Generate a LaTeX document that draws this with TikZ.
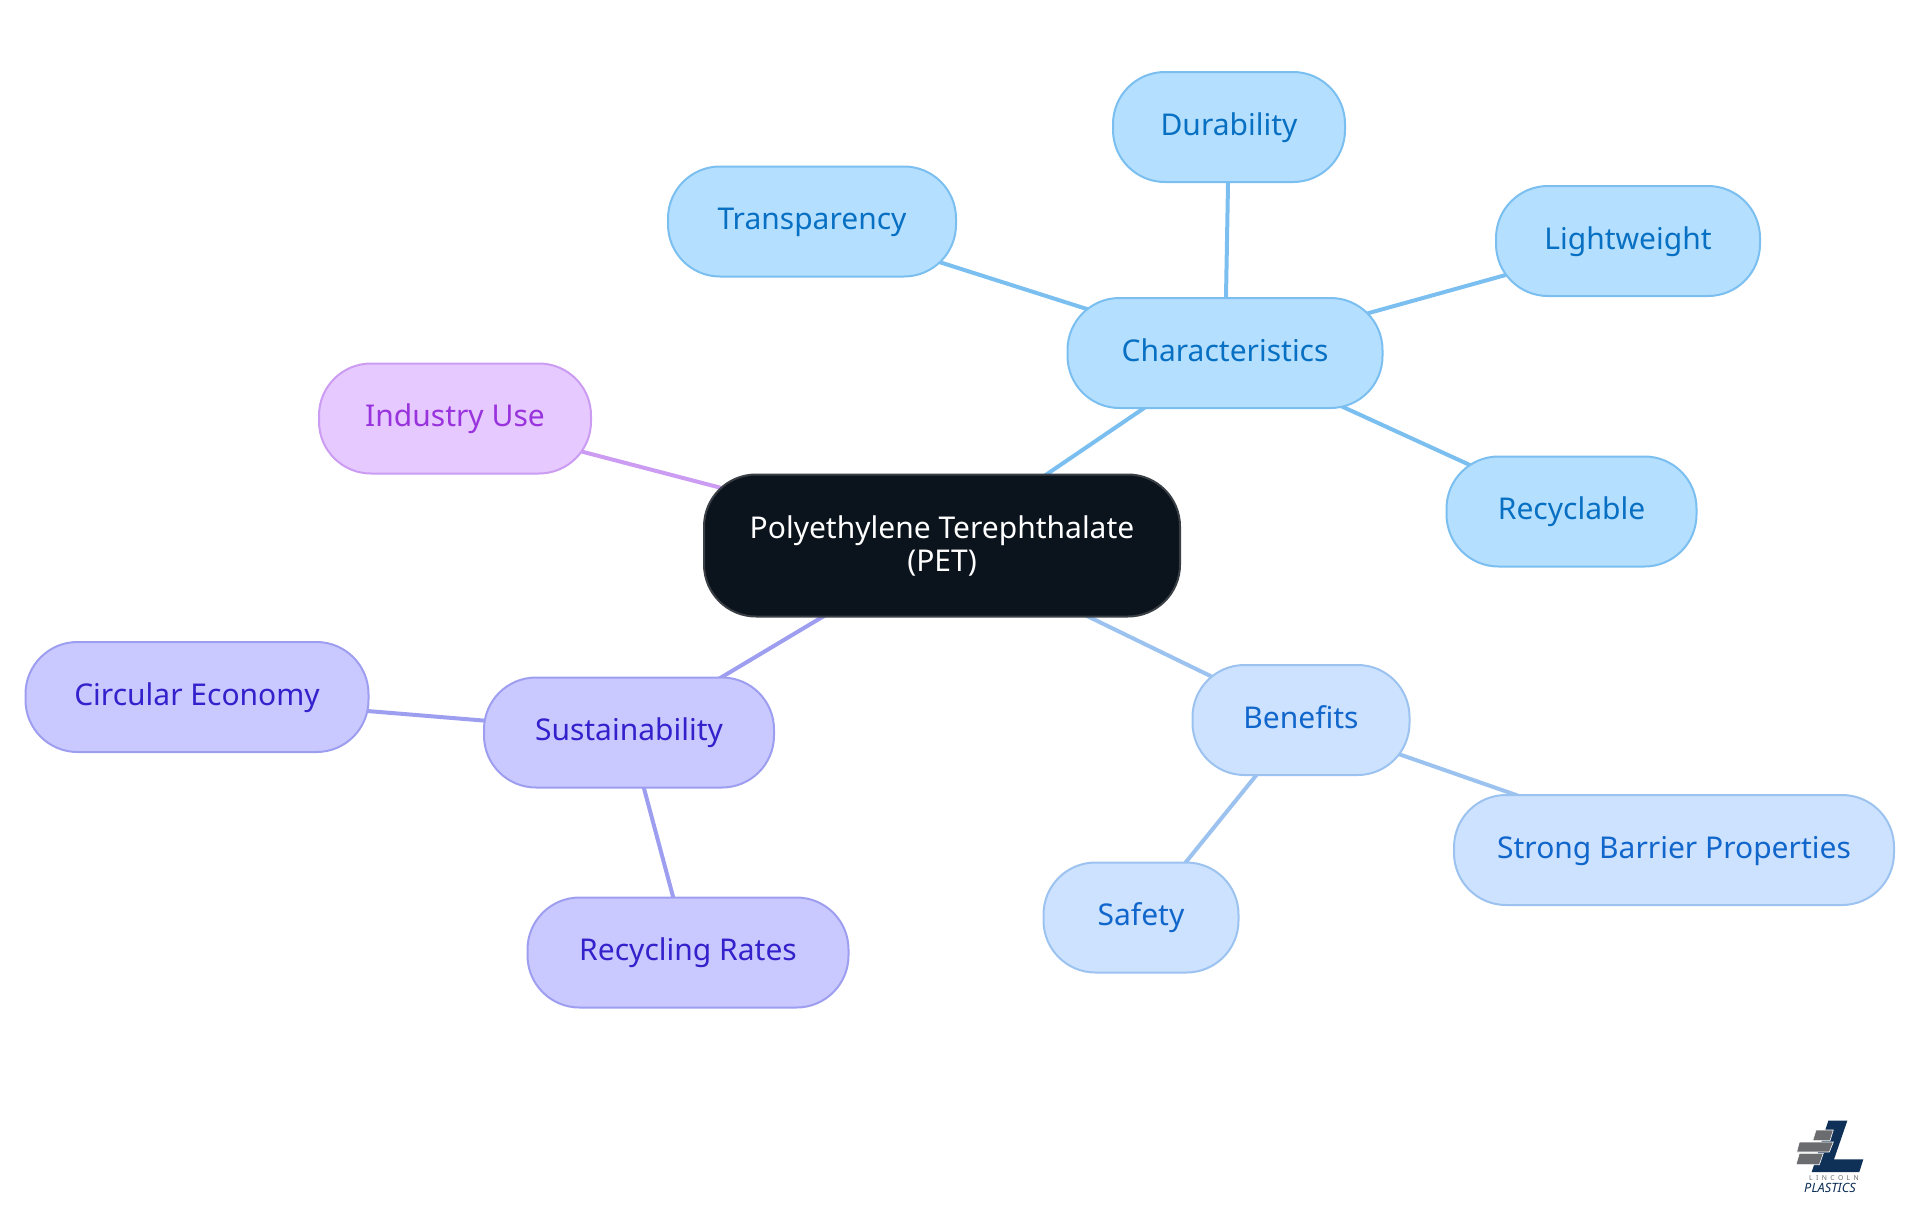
\documentclass[tikz,border=0pt]{standalone}
\usepackage{fontspec}
\setmainfont{Noto Sans}
\usetikzlibrary{positioning, backgrounds}
\definecolor{rootFill}{HTML}{0B131C}
\definecolor{rootStroke}{HTML}{3A3F45}
\definecolor{charFill}{HTML}{B5DFFF}
\definecolor{charStroke}{HTML}{7BBFF0}
\definecolor{charText}{HTML}{0870C2}
\definecolor{beneFill}{HTML}{CCE2FF}
\definecolor{beneStroke}{HTML}{9CC3F0}
\definecolor{beneText}{HTML}{1166CC}
\definecolor{sustFill}{HTML}{C9C9FF}
\definecolor{sustStroke}{HTML}{9E9EF0}
\definecolor{sustText}{HTML}{3322CC}
\definecolor{induFill}{HTML}{E6C9FF}
\definecolor{induStroke}{HTML}{CB9CF2}
\definecolor{induText}{HTML}{9933DD}
\definecolor{logoNavy}{HTML}{0F3057}
\definecolor{logoGray}{HTML}{6A6C70}
\tikzset{
  mind/.style = {
    font=\fontsize{15}{16.5}\selectfont,
    every node/.append style={align=center},
  },
  pill/.style = {
    rectangle, rounded corners=26pt, line width=1pt,
    minimum height=55, inner sep=0pt, text height=11.5pt, text depth=3.5pt,
  },
  rootpill/.style = {
    pill, draw=rootStroke, fill=rootFill, text=white, minimum height=71,
    text height=, text depth=,
  },
  charpill/.style = {pill, draw=charStroke, fill=charFill, text=charText},
  benepill/.style = {pill, draw=beneStroke, fill=beneFill, text=beneText},
  sustpill/.style = {pill, draw=sustStroke, fill=sustFill, text=sustText},
  indupill/.style = {pill, draw=induStroke, fill=induFill, text=induText},
  charlink/.style = {draw=charStroke, line width=2pt},
  benelink/.style = {draw=beneStroke, line width=2pt},
  sustlink/.style = {draw=sustStroke, line width=2pt},
  indulink/.style = {draw=induStroke, line width=2pt},
  brick/.style = {fill=logoGray, draw=white, line width=0.3pt},
}
\begin{document}
\begin{tikzpicture}[mind, x=0.5pt, y=-0.5pt]
\useasboundingbox (0,0) rectangle (1920,1215);

\node[rootpill, minimum width=238] (pet) at (942,545.5) {Polyethylene Terephthalate\\(PET)};

\node[charpill, minimum width=157.5] (char)  at (1225,353)  {Characteristics};
\node[charpill, minimum width=116] (dura)  at (1229,127)  {Durability};
\node[charpill, minimum width=144] (tran)  at (812,221.5)   {Transparency};
\node[charpill, minimum width=132] (ligh)  at (1628,241)  {Lightweight};
\node[charpill, minimum width=125] (recy)  at (1571.5,511.5)  {Recyclable};

\node[indupill, minimum width=136] (indu)  at (455,418.5)   {Industry Use};

\node[sustpill, minimum width=145] (sust)  at (629,732.5)   {Sustainability};
\node[sustpill, minimum width=171.5] (circ)  at (197,697)   {Circular Economy};
\node[sustpill, minimum width=160.5] (rate)  at (688,952.5)   {Recycling Rates};

\node[benepill, minimum width=108.5] (bene)  at (1301,720)  {Benefits};
\node[benepill, minimum width=97.5]  (safe)  at (1141,917.5)  {Safety};
\node[benepill, minimum width=220] (barr)  at (1674,850)  {Strong Barrier Properties};

\begin{scope}[on background layer]
\draw[charlink] (pet.center) -- (char.center);
\draw[charlink] (char.center) -- (dura.center);
\draw[charlink] (char.center) -- (tran.center);
\draw[charlink] (char.center) -- (ligh.center);
\draw[charlink] (char.center) -- (recy.center);
\draw[indulink] (pet.center) -- (indu.center);
\draw[sustlink] (pet.center) -- (sust.center);
\draw[sustlink] (sust.center) -- (circ.center);
\draw[sustlink] (sust.center) -- (rate.center);
\draw[benelink] (pet.center) -- (bene.center);
\draw[benelink] (bene.center) -- (safe.center);
\draw[benelink] (bene.center) -- (barr.center);
\end{scope}

\fill[logoNavy] (1828.3,1120.7) -- (1847.3,1120.7) -- (1834,1159.3) -- (1863.3,1159.3) -- (1859.3,1172) -- (1811.7,1172) -- cycle;
\filldraw[brick] (1816,1130) -- (1833.3,1130) -- (1830,1140.7) -- (1812.7,1140.7) -- cycle;
\filldraw[brick] (1799.3,1142) -- (1833.3,1142) -- (1829.3,1152) -- (1796.7,1152) -- cycle;
\filldraw[brick] (1799.3,1153.3) -- (1823.3,1153.3) -- (1819.3,1164.7) -- (1796,1164.7) -- cycle;
\node[font=\fontsize{3.4}{4}\selectfont\addfontfeature{LetterSpace=50}, text=logoGray, inner sep=0pt] (lincoln) at (1834,1178.5) {LINCOLN};
\node[font=\fontsize{6.4}{7}\selectfont\bfseries\itshape, text=logoNavy, inner sep=0pt] (plastics) at (1830,1188) {PLASTICS};

\end{tikzpicture}
\end{document}
